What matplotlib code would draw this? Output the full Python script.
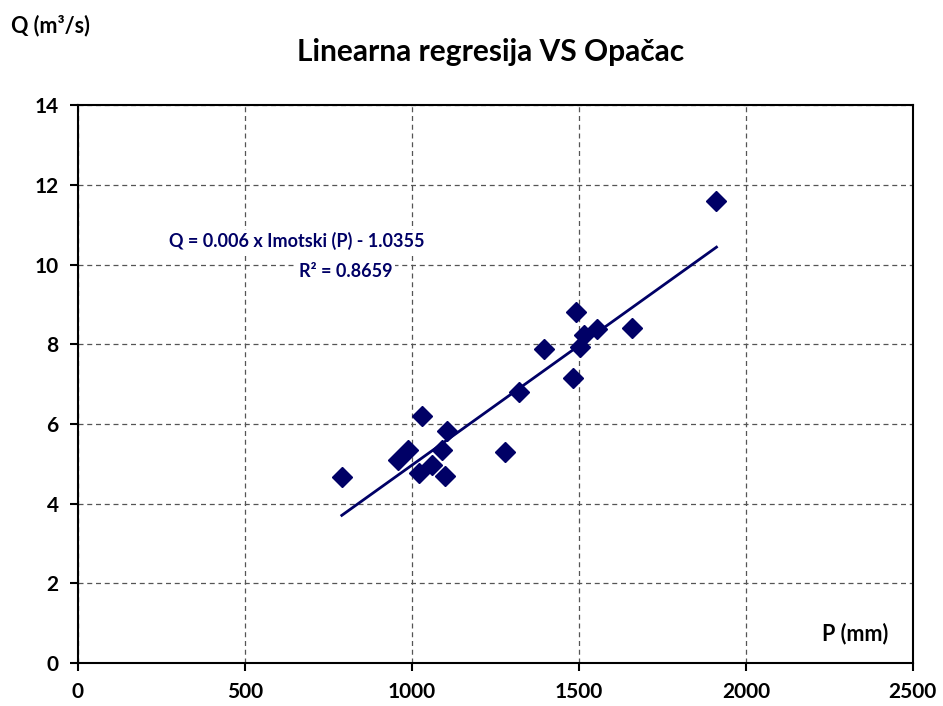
import numpy as np
from matplotlib import pyplot as plt

# === DATA ===
precip_mm = [790, 959, 987, 1022, 1029, 1059, 1091, 1099, 1104, 1280,
             1321, 1395, 1483, 1491, 1503, 1516, 1555, 1660, 1912]
flow_m3s = [4.66, 5.10, 5.35, 4.77, 6.19, 4.97, 5.35, 4.68, 5.81, 5.29,
            6.79, 7.89, 7.15, 8.81, 7.93, 8.24, 8.39, 8.41, 11.59]
slope = 0.006
intercept = -1.0355
r2 = 0.8659

x_ticks = [0, 500, 1000, 1500, 2000, 2500]
y_ticks = [0, 2, 4, 6, 8, 10, 12, 14]

navy = '#000066'
plt.rcParams['font.family'] = ['Lato', 'DejaVu Sans']
plt.rcParams['font.weight'] = 'bold'

fig = plt.figure(figsize=(9.43, 7.06), dpi=100)
ax = fig.add_axes([0.0827, 0.061, 0.8853, 0.790])

ax.plot(precip_mm, flow_m3s, 'D', color=navy, markersize=10, zorder=3)

# trend line
x_line = np.array([min(precip_mm), max(precip_mm)])
ax.plot(x_line, slope * x_line + intercept, '-', color=navy, lw=2, zorder=2)

ax.set_xlim(0, 2500)
ax.set_ylim(0, 14)
ax.set_xticks(x_ticks)
ax.set_yticks(y_ticks)
ax.tick_params(labelsize=15, direction='out', length=6, width=1.5, pad=8)
for lab in ax.get_xticklabels() + ax.get_yticklabels():
    lab.set_fontweight('bold')
ax.grid(True, linestyle=(0, (4, 3)), color='#555555', lw=0.9)
ax.set_axisbelow(True)
for sp in ax.spines.values():
    sp.set_linewidth(1.5)

fig.text(0.52, 0.926, 'Linearna regresija VS Opačac', ha='center', va='center',
         fontsize=21.5, fontweight='bold')
fig.text(0.012, 0.964, 'Q (m³/s)', ha='left', va='center',
         fontsize=15.5, fontweight='bold')
ax.text(0.97, 0.052, 'P (mm)', transform=ax.transAxes, ha='right', va='center',
        fontsize=15.5, fontweight='bold')

eq_text = 'Q = %.3f x Imotski (P) - %.4f' % (slope, -intercept)
ax.text(656, 10.58, eq_text, ha='center', va='center', fontsize=13,
        fontweight='bold', color=navy,
        bbox=dict(facecolor='white', edgecolor='none', pad=2))
ax.text(802, 9.82, 'R² = %.4f' % r2, ha='center', va='center', fontsize=13,
        fontweight='bold', color=navy,
        bbox=dict(facecolor='white', edgecolor='none', pad=2))

fig.savefig('out.png', dpi=100)
